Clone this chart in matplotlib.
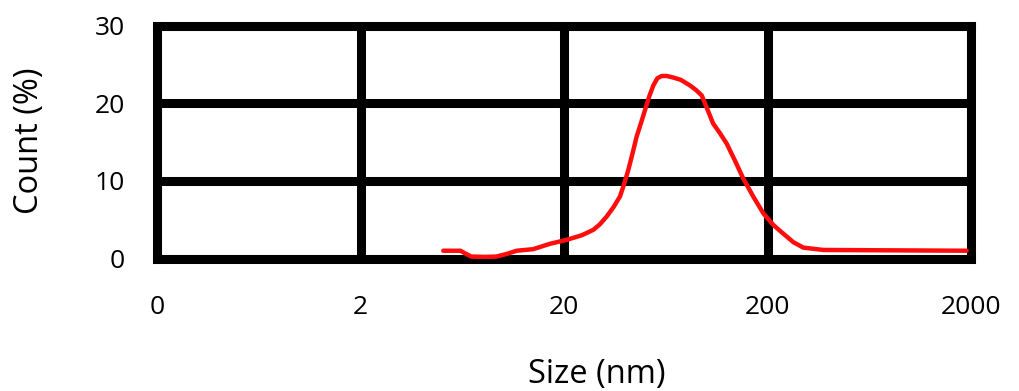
import numpy as np
import matplotlib
matplotlib.use('Agg')
import matplotlib.pyplot as plt

# ----------------------------
# data
# ----------------------------
size_nm = [5.1, 6.2, 6.6, 7.0, 8.2, 9.3, 10.5, 11.7, 14.1, 17.1, 20.6, 24.5,
           27.9, 30.0, 32.4, 35.0, 37.7, 39.5, 41.4, 43.5, 45.5, 48.0, 50.0,
           52.5, 55.0, 57.5, 60.4, 64.0, 68.9, 75.0, 83.0, 89.0, 95.0, 101.0,
           108.0, 117.0, 126.0, 139.0, 152.0, 170.0, 191.0, 214.0, 239.0,
           268.0, 300.0, 349.0, 376.0, 1904.0]
count_pct = [1.0, 1.0, 0.6, 0.25, 0.2, 0.25, 0.6, 1.0, 1.2, 1.9, 2.4, 3.0,
             3.7, 4.4, 5.4, 6.6, 8.0, 9.6, 11.4, 13.6, 15.7, 17.6, 19.1,
             20.9, 22.3, 23.2, 23.5, 23.5, 23.3, 23.0, 22.3, 21.7, 21.0, 19.3,
             17.4, 16.1, 14.8, 12.5, 10.3, 8.0, 5.8, 4.3, 3.2, 2.1, 1.4, 1.2,
             1.1, 1.0]

x_ticks = [0.2, 2, 20, 200, 2000]
x_tick_labels = ['0', '2', '20', '200', '2000']
y_ticks = [0, 10, 20, 30]

plt.rcParams['font.family'] = ['Open Sans', 'DejaVu Sans']

fig = plt.figure(figsize=(10.2, 3.91), dpi=100)
ax = fig.add_axes([157 / 1020, 132.5 / 391, (971 - 157) / 1020, (258.5 - 25.5) / 391])

ax.plot(size_nm, count_pct, color='#ff0d0d', linewidth=3.2, zorder=5,
        solid_capstyle='round', solid_joinstyle='round')

ax.set_xscale('log')
ax.set_xlim(0.2, 2000)
ax.set_ylim(0, 30)
ax.set_xticks(x_ticks)
ax.set_xticklabels(x_tick_labels)
ax.xaxis.set_minor_locator(matplotlib.ticker.NullLocator())
ax.set_yticks(y_ticks)

# 粗黑网格线 + 边框
ax.grid(True, color='black', linewidth=6.5)
for sp in ax.spines.values():
    sp.set_linewidth(6.5)
    sp.set_color('black')
ax.set_axisbelow(True)

ax.tick_params(axis='both', length=0, labelsize=19, colors='black')
ax.tick_params(axis='y', pad=23)
ax.tick_params(axis='x', pad=26)

fig.text(30 / 1020, 1 - 141 / 391, 'Count (%)', rotation=90, fontsize=23.5,
         ha='center', va='center')
fig.text(597 / 1020, 1 - 374 / 391, 'Size (nm)', fontsize=23.5,
         ha='center', va='center')

fig.savefig('out.png', dpi=100)
plt.close(fig)
